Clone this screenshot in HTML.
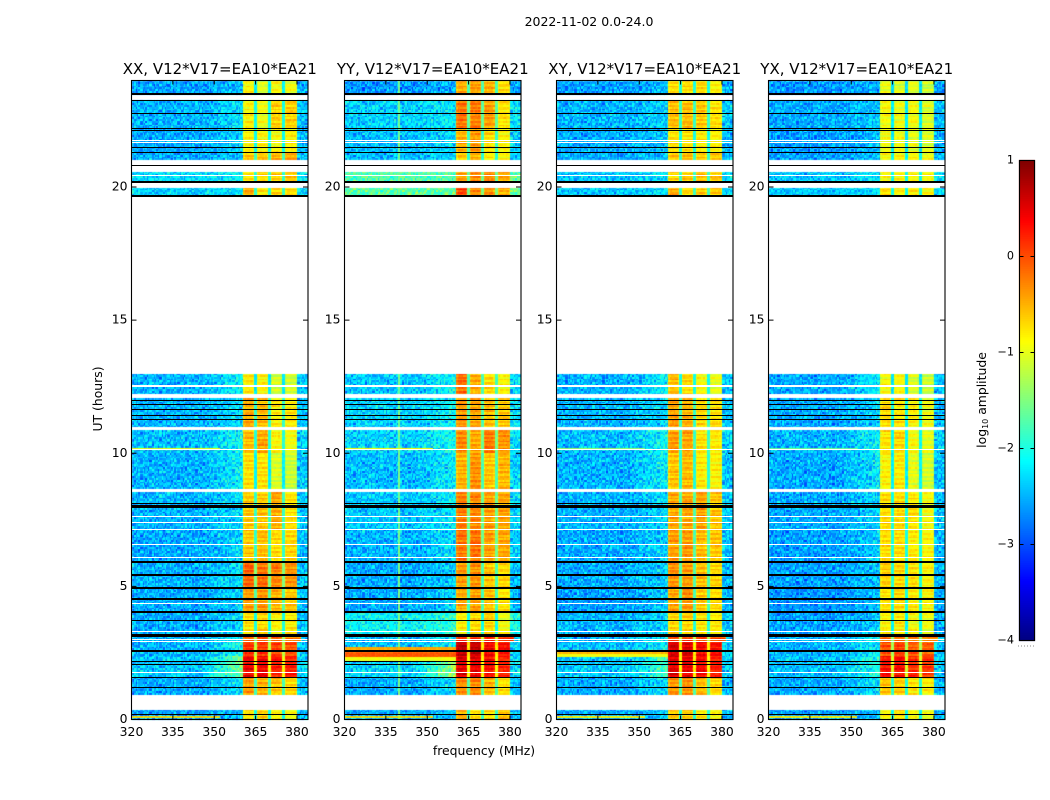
<!DOCTYPE html>
<html lang="en">
<head>
<meta charset="utf-8">
<title>2022-11-02 0.0-24.0</title>
<style>
html,body{margin:0;padding:0;background:#fff;}
#figure{position:relative;width:1050px;height:800px;overflow:hidden;background:#fff;font-family:"DejaVu Sans","Liberation Sans",sans-serif;}
#heatmap-canvas,#overlay{position:absolute;left:0;top:0;}
text{font-family:"DejaVu Sans","Liberation Sans",sans-serif;fill:#000;}
</style>
</head>
<body>
<div id="figure">
<canvas id="heatmap-canvas" width="1050" height="800"></canvas>
<svg id="overlay" width="1050" height="800" viewBox="0 0 1050 800"></svg>
</div>
<script>
// ---- chart data ----
const panelTitles = ['XX, V12*V17=EA10*EA21','YY, V12*V17=EA10*EA21','XY, V12*V17=EA10*EA21','YX, V12*V17=EA10*EA21'];
const xTicks = [320,335,350,365,380];
const yTicks = [0,5,10,15,20];
const colorbarTicks = [1,0,-1,-2,-3,-4];
const colorbarLabels = ['1','0','\u22121','\u22122','\u22123','\u22124'];

// observed time segments (UT hours)
const segStart = [0,0.91,1.55,2.4,2.9,3.2,4.0,4.95,5.9,7.1,8.64,10.0,10.99,12.21,19.65,20.17,21.01,21.3,22.2,23.45];
const segEnd   = [0.345,1.55,2.4,2.9,3.2,4.0,4.95,5.9,7.1,8.55,10.0,10.86,12.09,12.96,19.98,20.58,21.3,22.2,23.27,24];

// log10 amplitude per segment: [out-of-band, band1, band2, band3, band4, ramp toward band]
const levelsXX = [
[-2.6,-0.75,-0.65,-0.85,-0.95,0.1],[-2.55,-0.4,-0.5,-0.6,-0.7,0.2],[-2.4,0.4,0.4,0.25,0.2,0.6],[-2.5,0.1,0.1,0.05,0.0,0.3],
[-2.5,-0.1,-0.05,-0.1,-0.25,0.2],[-2.55,-0.75,-0.7,-0.85,-0.8,0.2],[-2.55,-0.4,-0.4,-0.5,-0.6,0.15],[-2.5,-0.1,-0.2,-0.25,-0.35,0.2],
[-2.55,-0.6,-0.55,-0.7,-0.7,0.15],[-2.5,-0.6,-0.6,-0.45,-0.75,0.15],[-2.5,-0.75,-0.75,-1.05,-1.15,0.25],[-2.45,-0.55,-0.45,-0.85,-0.95,0.25],
[-2.5,-0.45,-0.55,-0.8,-0.8,0.15],[-2.5,-0.8,-0.85,-1.1,-1.1,0.25],[-2.35,-0.5,-0.8,-0.65,-0.7,0.1],[-2.3,-0.75,-0.7,-0.65,-0.6,0.1],
[-2.55,-0.6,-0.6,-0.5,-0.5,0.1],[-2.55,-0.85,-0.85,-0.9,-0.85,0.15],[-2.5,-0.85,-0.95,-0.65,-0.65,0.15],[-2.6,-0.85,-1.05,-0.9,-0.95,0.1]];
const levelsYY = [
[-2.55,-0.45,-0.75,-0.7,-0.6,0.1],[-2.55,-0.3,-0.3,-0.5,-0.75,0.2],[-2.35,0.5,0.45,0.35,0.2,0.7],[-2.45,0.7,0.65,0.4,0.3,0.2],
[-2.45,0.2,0.15,0.2,0.1,0.2],[-2.15,-0.85,-0.7,-0.7,-0.95,0.15],[-2.55,-0.45,-0.4,-0.6,-0.75,0.15],[-2.55,-0.4,-0.35,-0.6,-0.7,0.15],
[-2.5,-0.2,-0.2,-0.4,-0.45,0.15],[-2.4,-0.25,-0.3,-0.4,-0.45,0.15],[-2.45,-0.5,-0.35,-0.6,-0.55,0.2],[-2.35,-0.3,-0.45,-0.2,-0.35,0.2],
[-2.35,-0.35,-0.45,-0.55,-0.6,0.15],[-2.4,-0.15,-0.5,-0.7,-0.85,0.2],[-1.7,0.05,-0.3,-0.35,-0.5,0],[-1.75,-0.4,-0.3,-0.3,-0.45,0],
[-2.45,-0.6,-0.5,-0.8,-0.9,0.1],[-2.45,-0.5,-0.4,-0.7,-0.85,0.1],[-2.35,-0.2,-0.25,-0.4,-0.75,0.1],[-2.65,-0.45,-0.4,-0.5,-0.7,0.1]];
const levelsXY = [
[-2.55,-0.6,-0.65,-0.8,-0.85,0.1],[-2.55,-0.35,-0.35,-0.55,-0.7,0.2],[-2.4,0.5,0.45,0.35,0.25,0.4],[-2.45,0.6,0.55,0.4,0.3,0.2],
[-2.5,0.05,0.05,0.05,-0.05,0.2],[-2.5,-0.7,-0.65,-0.75,-0.8,0.15],[-2.6,-0.45,-0.35,-0.6,-0.7,0.15],[-2.55,-0.35,-0.4,-0.55,-0.65,0.15],
[-2.55,-0.4,-0.4,-0.55,-0.6,0.15],[-2.5,-0.45,-0.45,-0.4,-0.6,0.15],[-2.5,-0.6,-0.55,-0.8,-0.85,0.25],[-2.45,-0.4,-0.45,-0.75,-0.8,0.25],
[-2.5,-0.4,-0.5,-0.7,-0.75,0.15],[-2.5,-0.55,-0.7,-0.9,-1.0,0.25],[-2.4,-0.45,-0.7,-0.6,-0.65,0.1],[-2.4,-0.7,-0.65,-0.55,-0.6,0.1],
[-2.55,-0.6,-0.6,-0.6,-0.65,0.1],[-2.55,-0.75,-0.75,-0.8,-0.85,0.1],[-2.5,-0.55,-0.55,-0.6,-0.75,0.1],[-2.6,-0.7,-0.7,-0.7,-0.85,0.1]];
const levelsYX = [
[-2.6,-0.85,-0.75,-0.9,-1.0,0.1],[-2.55,-0.6,-0.65,-0.75,-0.85,0.2],[-2.45,0.3,0.3,0.15,0.1,0.3],[-2.5,0.0,0.0,-0.05,-0.1,0.2],
[-2.5,-0.2,-0.15,-0.25,-0.3,0.2],[-2.6,-0.85,-0.8,-0.9,-0.95,0.15],[-2.65,-0.75,-0.7,-0.8,-0.85,0.15],[-2.6,-0.65,-0.7,-0.75,-0.85,0.15],
[-2.6,-0.7,-0.7,-0.8,-0.85,0.15],[-2.55,-0.7,-0.7,-0.75,-0.9,0.15],[-2.55,-0.85,-0.8,-1.0,-1.1,0.25],[-2.5,-0.75,-0.7,-0.9,-1.0,0.25],
[-2.55,-0.7,-0.75,-0.85,-0.95,0.15],[-2.55,-0.9,-0.9,-1.05,-1.15,0.25],[-2.4,-0.7,-0.85,-0.8,-0.85,0.1],[-2.4,-0.9,-0.85,-0.85,-0.9,0.1],
[-2.6,-0.85,-0.85,-0.85,-0.95,0.1],[-2.6,-0.95,-0.95,-1.0,-1.05,0.1],[-2.55,-0.9,-0.95,-0.9,-1.05,0.1],[-2.65,-1.0,-1.05,-1.0,-1.15,0.1]];
const panelLevels = [levelsXX,levelsYY,levelsXY,levelsYX];

// sub-band edges (MHz)
const bandStart = [360.5,365.5,370.6,375.5];
const bandStop  = [364.7,369.7,374.7,380.0];
const extendedBandSegments = [4];

// narrow bright rows outside the band
const stripPanel = [0,1,2,3,1,1,1,2,2,0,1,2,3];
const stripStart = [0.07,0.07,0.07,0.07,2.53,2.35,2.17,2.44,2.36,10.12,10.12,10.12,10.12];
const stripEnd   = [0.15,0.15,0.15,0.15,2.72,2.53,2.35,2.62,2.44,10.2,10.2,10.2,10.2];
const stripLevel = [-0.7,-0.7,-0.8,-0.8,-0.45,-0.05,-0.95,-0.5,-0.95,-1.0,-0.9,-1.4,-1.6];
const stripStopFreq = [352,352,352,352,361,361,361,361,361,352,352,352,352];

// vertical interference lines (panel, MHz, level)
const rfiPanel = [0,1];
const rfiFreq  = [354.5,339.7];
const rfiLevel = [-2.0,-1.55];

// thin flagged (blank) rows and black marker lines (UT hours)
const blankRows = [20.42,21.76,21.68,12.56,12.50,10.14,7.61,7.40,7.12,6.57,6.09,4.36,3.32,3.02,2.93,1.77];
const blackLines = [23.49,23.26,22.75,22.18,22.12,21.49,21.28,20.80,20.18,19.65,11.98,11.84,11.64,11.41,11.25,8.12,8.0,5.91,5.41,4.93,4.53,4.03,3.73,3.17,2.56,2.17,2.06,1.56,1.21,0.17];
const blackWidths = [2,1,1,1,1,1,1,1,2,2,1,1,1,1,1,1,3,2,2,2,2,2,1,3,2,1,1,1,1,1];

// fine-grain amplitude texture estimated from the speckle of the picture
const speckle = [
[ .3,-.6, .8,-.2,-.9, .5, .1,-.4, .9,-.7, .2, .6,-.3,-.8, .4, .7,-.5, .0,-.9, .6,-.1, .3,-.6],
[-.8, .4,-.1, .7,-.5, .2,-.9, .6, .3,-.2, .8,-.6,.1, .5,-.7,-.3, .9,-.4, .2,-.8, .7,-.2, .4],
[ .6,-.2,-.7, .1, .9,-.4, .5,-.8,-.1, .7,-.5, .3,-.9, .2, .8,-.6, .0, .6,-.3, .4,-.7, .9,-.1],
[-.3, .9, .2,-.6, .4,-.8, .7,.0,-.5, .3,-.9, .8,-.2, .6,-.4, .1,-.7, .5, .9,-.6, .2,-.4, .7],
[ .5,-.7, .4,-.9, .1, .8,-.3, .6,-.6, .2, .4,-.1, .7,-.8, .3,-.5, .9,-.2,-.4, .7,-.9, .1, .6],
[-.1, .2,-.8, .6,-.4, .3, .9,-.7, .5,-.3, .1,-.9, .6, .0,-.6, .8,-.2, .4,-.8, .3, .5,-.5,-.9],
[ .8,-.4, .6,-.3, .7,-.6,-.1, .2,-.9, .9,-.7, .4,-.5, .3, .1,-.8, .6,-.1, .7,-.4,-.2, .8, .2],
[-.6, .1,-.5, .9,-.2, .4,-.8, .5, .7,-.4, .3,-.1, .8,-.7, .6,-.3,-.9, .2, .5,-.6, .9,-.3,.0],
[ .2, .7,-.3,-.6, .5,-.9, .3,-.2, .1, .6,-.8, .5,-.4, .9,-.1, .4,-.6, .8,-.5, .1,-.7, .6,-.4],
[-.9, .5, .1,-.4, .8,-.1,-.6, .9,-.3,-.7, .4, .2,-.8, .6,-.2, .7, .3,-.9, .4,-.1, .5,-.5, .8],
[ .4,-.8, .7, .2,-.6, .6,-.4,.0, .8,-.5, .9,-.2, .3,-.9, .5,-.6, .1,-.3, .7,-.8, .2, .4,-.7],
[-.2, .6,-.9, .5,-.1,-.7, .8,-.3, .4,.1,-.6, .7,-.4, .2,-.8, .9,-.5, .3,-.2, .6,-.9, .7,.1],
[ .7,-.5, .3,-.8, .4, .1,-.2, .6,-.7, .5,-.3,-.9, .9,-.1, .6,-.4,-.8, .7,.0,-.5, .3,-.6, .5],
[-.5, .3,-.6, .8,-.3, .9,-.7, .2, .6,-.9, .7,.0,-.1, .4,-.5, .2, .8,-.6, .5,-.2,-.8, .1, .9],
[ .1,-.9, .5,-.1, .6,-.5, .4,-.8, .2, .8,-.4, .6,-.7, .3, .9,-.2, .4,-.7, .1, .8,-.3,-.6, .3],
[-.7, .8,-.2, .4,-.8, .7,.0,-.5, .9,-.1,.2,-.6, .5,-.3, .7,-.9, .3, .6,-.4, .2, .6,-.8,-.2],
[ .9,-.3,-.4, .7,.2,-.2,-.9, .8,-.6, .3,-.1, .5,.4,-.7,.0, .6,-.8, .1, .8,-.5,.4, .2,-.7]];
const rowRipple = [.4,-.6,.9,.1,-.3,.7,-.8,.2,.5,-.5,-.1,.8,-.7];

const colorMin = -4, colorMax = 1;
const channelWidth = 0.5, rowHeightHours = 0.0667;

// ---- axis functions ----
const panelLeft = [131.5,344.5,556.5,768.5];
const panelWidth = 176.5;
const plotTop = 80.5, plotBottom = 719.5;
function xScale(p,f){ return panelLeft[p] + (f-320)/64*panelWidth; }
function yScale(t){ return plotBottom - t/24*(plotBottom-plotTop); }
const cbLeft = 1019.5, cbRight = 1034.5, cbTop = 160.5, cbBottom = 640.5;
function cbScale(v){ return cbBottom - (v-colorMin)/(colorMax-colorMin)*(cbBottom-cbTop); }
function clamp01(v){ return Math.max(0,Math.min(1,v)); }
function jet(v){
  const x = clamp01((v-colorMin)/(colorMax-colorMin));
  const r = clamp01(1.5-Math.abs(4*x-3)), g = clamp01(1.5-Math.abs(4*x-2)), b = clamp01(1.5-Math.abs(4*x-1));
  return 'rgb('+Math.round(r*255)+','+Math.round(g*255)+','+Math.round(b*255)+')';
}
function snap(y,w){ return Math.round(w)%2===1 ? Math.floor(y)+0.5 : Math.round(y); }

// ---- heatmap cells ----
function cellValue(p,s,row,chan,t,f){
  const lv = panelLevels[p][s];
  const block = Math.floor(chan*0.85);
  const texA = speckle[(row+p*7)%17][(block+row*5+p*3)%23];
  const texB = speckle[(row*3+p*2+4)%17][(block*2+row*11+p)%23];
  const tex = (texA+texB)*0.75;
  let stop4 = bandStop[3];
  if (extendedBandSegments.indexOf(s)>=0) stop4 = 381.6;
  if (f>=bandStart[0] && f<stop4){
    for (let b=0;b<4;b++){
      const e = b===3 ? stop4 : bandStop[b];
      if (f>=bandStart[b] && f<e){
        const rip = rowRipple[(row+p*3+b*4)%13];
        const edge = (f-bandStart[b]<0.5 || e-f<0.5) ? 0.12 : 0;
        return lv[b+1]-edge+tex*0.1+rip*0.2;
      }
    }
    const mean = (lv[1]+lv[2]+lv[3]+lv[4])/4;
    return Math.max(lv[0],mean-1.25)+tex*0.1;
  }
  if (f<bandStart[0]){
    for (let k=0;k<stripPanel.length;k++){
      if (stripPanel[k]===p && t>=stripStart[k] && t<stripEnd[k] && f<stripStopFreq[k]) return stripLevel[k]+tex*0.08;
    }
    for (let k=0;k<rfiPanel.length;k++){
      if (rfiPanel[k]===p && Math.abs(f-rfiFreq[k])<channelWidth/2) return rfiLevel[k]+tex*0.1;
    }
  }
  let v = lv[0]+tex*0.42;
  if (f>346 && f<bandStart[0]) v += lv[5]*(f-346)/(bandStart[0]-346)*1.5;
  if (f>=stop4) v += 0.1;
  return v;
}
const ctx = document.getElementById('heatmap-canvas').getContext('2d');
for (let p=0;p<4;p++){
  for (let s=0;s<segStart.length;s++){
    const firstRow = Math.floor(segStart[s]/rowHeightHours);
    const lastRow = Math.ceil(segEnd[s]/rowHeightHours);
    for (let row=firstRow;row<lastRow;row++){
      const t0 = Math.max(segStart[s],row*rowHeightHours);
      const t1 = Math.min(segEnd[s],(row+1)*rowHeightHours);
      const y1 = Math.round(yScale(t1)), y0 = Math.round(yScale(t0));
      if (y0<=y1) continue;
      for (let chan=0;chan<128;chan++){
        const f = 320+chan*channelWidth;
        const x0 = Math.round(xScale(p,f)), x1 = Math.round(xScale(p,f+channelWidth));
        ctx.fillStyle = jet(cellValue(p,s,row,chan,(t0+t1)/2,f+channelWidth/2));
        ctx.fillRect(x0,y1,x1-x0,y0-y1);
      }
    }
  }
}
for (let n=0;n<240;n++){
  const v = colorMin+(n+0.5)/240*(colorMax-colorMin);
  ctx.fillStyle = jet(v);
  ctx.fillRect(Math.floor(cbLeft),Math.floor(cbScale(v)-1),16,3);
}

// ---- svg overlay ----
const NS = 'http://www.w3.org/2000/svg';
const svg = document.getElementById('overlay');
function line(parent,x1,y1,x2,y2,color,w){
  const e = document.createElementNS(NS,'line');
  e.setAttribute('x1',x1); e.setAttribute('y1',y1); e.setAttribute('x2',x2); e.setAttribute('y2',y2);
  e.setAttribute('stroke',color); e.setAttribute('stroke-width',w);
  parent.appendChild(e);
  return e;
}
function label(parent,x,y,str,size,anchor){
  const e = document.createElementNS(NS,'text');
  e.setAttribute('x',x); e.setAttribute('y',y);
  e.setAttribute('font-size',size); e.setAttribute('text-anchor',anchor);
  e.textContent = str;
  parent.appendChild(e);
  return e;
}
function group(parent){
  const g = document.createElementNS(NS,'g');
  parent.appendChild(g);
  return g;
}
const figTitle = label(svg,589,26,'2022-11-02 0.0-24.0',12.5,'middle');



for (let p=0;p<4;p++){
  const g = group(svg);
  
  
  const L = panelLeft[p], R = L+panelWidth;
  for (let k=0;k<blankRows.length;k++){
    const yw = snap(yScale(blankRows[k]),1);
    const w = line(g,L,yw,R,yw,'#fff',1);
    
    
  }
  for (let k=0;k<blackLines.length;k++){
    const yb = snap(yScale(blackLines[k]),blackWidths[k]);
    const b = line(g,L,yb,R,yb,'#000',blackWidths[k]);
    
    
  }
  const frame = document.createElementNS(NS,'rect');
  frame.setAttribute('x',L); frame.setAttribute('y',plotTop);
  frame.setAttribute('width',panelWidth); frame.setAttribute('height',plotBottom-plotTop);
  frame.setAttribute('fill','none'); frame.setAttribute('stroke','#000'); frame.setAttribute('stroke-width','1.1');
  
  
  g.appendChild(frame);
  const title = label(g,L+panelWidth/2,74,panelTitles[p],15,'middle');
  
  
  xTicks.forEach(function(v){
    const x = xScale(p,v);
    const a = line(g,x,plotBottom,x,plotBottom-4,'#000',1);
    
    
    const c = line(g,x,plotTop,x,plotTop+4,'#000',1);
    
    
    const t = label(g,x,736,String(v),12.4,'middle');
    
    
  });
  yTicks.forEach(function(v){
    const y = yScale(v);
    const a = line(g,L,y,L+5,y,'#000',1);
    
    
    const c = line(g,R-5,y,R,y,'#000',1);
    
    
    const t = label(g,L-4,y+3.5,String(v),12.4,'end');
    
    
  });
}
const xTitle = label(svg,484,755,'frequency (MHz)',12.4,'middle');


const yTitle = label(svg,0,0,'UT (hours)',12.4,'middle');
yTitle.setAttribute('transform','translate(102,399) rotate(-90)');



// colorbar
const cb = group(svg);


const cbFrame = document.createElementNS(NS,'rect');
cbFrame.setAttribute('x',cbLeft); cbFrame.setAttribute('y',cbTop);
cbFrame.setAttribute('width',cbRight-cbLeft); cbFrame.setAttribute('height',cbBottom-cbTop);
cbFrame.setAttribute('fill','none'); cbFrame.setAttribute('stroke','#000'); cbFrame.setAttribute('stroke-width','1.1');


cb.appendChild(cbFrame);
colorbarTicks.forEach(function(v,i){
  const y = cbScale(v);
  const a = line(cb,cbLeft,y,cbLeft+4,y,'#000',1);
  
  
  const c = line(cb,cbRight-4,y,cbRight,y,'#000',1);
  
  
  const t = label(cb,1014,y+3,colorbarLabels[i],11.2,'end');
  
  
});
const cbTitle = label(cb,0,0,'',12.4,'middle');
cbTitle.setAttribute('transform','translate(986,400) rotate(-90)');


cbTitle.appendChild(document.createTextNode('log'));
const sub = document.createElementNS(NS,'tspan');
sub.setAttribute('font-size','8');
sub.setAttribute('dy','2');
sub.textContent = '10';
cbTitle.appendChild(sub);
const rest = document.createElementNS(NS,'tspan');
rest.setAttribute('dy','-2');
rest.textContent = ' amplitude';
cbTitle.appendChild(rest);
const dots = line(cb,1018,646,1035,646,'#888',1);
dots.setAttribute('stroke-dasharray','1 2');


</script>
</body>
</html>
